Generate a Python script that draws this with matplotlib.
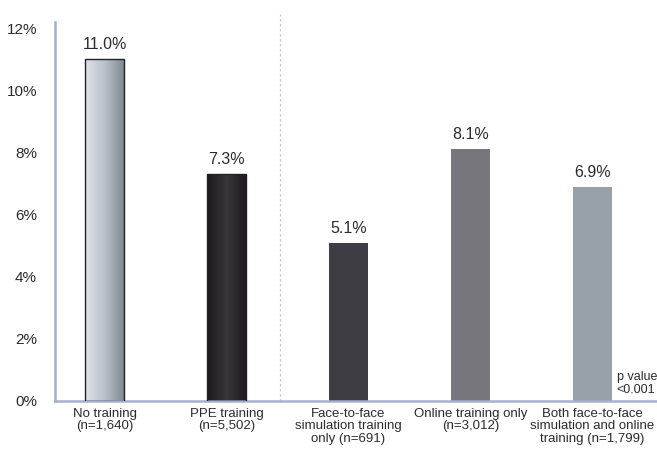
import matplotlib.pyplot as plt
import numpy as np
from matplotlib.colors import LinearSegmentedColormap

# data
CATEGORIES = [
    "No training\n(n=1,640)",
    "PPE training\n(n=5,502)",
    "Face-to-face\nsimulation training\nonly (n=691)",
    "Online training only\n(n=3,012)",
    "Both face-to-face\nsimulation and online\ntraining (n=1,799)",
]
RATES = [11.0, 7.3, 5.1, 8.1, 6.9]
VALUE_LABELS = ["11.0%", "7.3%", "5.1%", "8.1%", "6.9%"]
YTICKS = [0, 2, 4, 6, 8, 10, 12]

BAR_COLORS = ["#b4bcc5", "#231f22", "#3e3d44", "#77767d", "#98a1a9"]
AXIS_COLOR = "#a3b0d2"
TEXT_COLOR = "#2b2a2e"
FONT = ["Liberation Sans Narrow", "Liberation Sans", "DejaVu Sans"]
BAR_WIDTH = 0.32

plt.rcParams["font.family"] = FONT

fig = plt.figure(figsize=(6.57, 4.53), dpi=100)
ax = fig.add_axes([0.0837, 0.1148, 0.9163, 0.8366])

x = np.arange(len(RATES))
bars = ax.bar(x, RATES, width=BAR_WIDTH, color=BAR_COLORS, edgecolor="none", zorder=2)

# gradient fills on the first two bars
grads = [
    LinearSegmentedColormap.from_list("g0", ["#dde2e8", "#b9c0c8", "#7f878f"]),
    LinearSegmentedColormap.from_list("g1", ["#1e1a1d", "#3a3539", "#1c181b"]),
]
for bar, cmap in zip(bars[:2], grads):
    x0, w, h = bar.get_x(), bar.get_width(), bar.get_height()
    img = ax.imshow(np.linspace(0, 1, 64).reshape(1, -1), cmap=cmap, aspect="auto",
                    extent=[x0, x0 + w, 0, h], zorder=2)
    img.set_clip_path(bar)
    bar.set_facecolor("none")
    bar.set_edgecolor("#222222")
    bar.set_linewidth(1.0)
    bar.set_zorder(3)

for xi, val, lab in zip(x, RATES, VALUE_LABELS):
    ax.annotate(lab, (xi, val), xytext=(0, 5), textcoords="offset points",
                ha="center", va="bottom", fontsize=11.5, color=TEXT_COLOR)

# dashed divider between the two groups
ax.plot([1.44, 1.44], [0, 12.45], ls=(0, (2, 2)), lw=0.9, color="#c8c8c8",
        clip_on=False, zorder=1)

ax.set_xlim(-0.406, 4.53)
ax.set_ylim(0, 12.2)
ax.set_yticks(YTICKS)
ax.set_yticklabels([f"{t}%" for t in YTICKS], fontsize=11, color=TEXT_COLOR)
ax.tick_params(axis="y", length=0, pad=13)
ax.set_xticks(x)
ax.set_xticklabels(CATEGORIES, fontsize=9.5, color=TEXT_COLOR, linespacing=1.05)
ax.tick_params(axis="x", length=0, pad=5)

for side in ["top", "right"]:
    ax.spines[side].set_visible(False)
for side in ["left", "bottom"]:
    ax.spines[side].set_color(AXIS_COLOR)
    ax.spines[side].set_linewidth(1.8)

ax.text(4.2, 0.15, "p value\n<0.001", ha="left", va="bottom", fontsize=9,
        color=TEXT_COLOR, linespacing=1.1)

fig.savefig("out.png", dpi=100)
